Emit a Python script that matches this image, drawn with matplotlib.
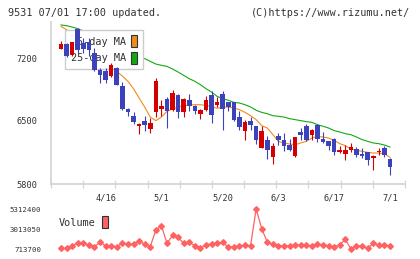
import matplotlib
matplotlib.use("Agg")
import matplotlib.pyplot as plt
from matplotlib.patches import Patch
from matplotlib.ticker import FixedLocator, NullFormatter
import numpy as np

# daily prices, 4/4 .. 7/1 (60 sessions)
opens = [7300, 7359, 7237, 7526, 7367, 7374, 7256, 7062, 7051, 6996,
         7089, 6892, 6633, 6559, 6441, 6504, 6411, 6596, 6633, 6748,
         6620, 6793, 6598, 6728, 6670, 6578, 6618, 6793, 6683, 6804,
         6707, 6707, 6541, 6385, 6504, 6441, 6200, 6293, 6096, 6330,
         6293, 6230, 6107, 6374, 6441, 6341, 6459, 6304, 6274, 6304,
         6152, 6137, 6174, 6189, 6133, 6152, 6085, 6152, 6200, 6081]
closes = [7359, 7218, 7374, 7293, 7300, 7293, 7070, 7007, 6951, 7126,
          6903, 6633, 6596, 6485, 6470, 6452, 6478, 6941, 6670, 6607,
          6815, 6600, 6748, 6663, 6607, 6626, 6728, 6565, 6709, 6638,
          6656, 6515, 6430, 6485, 6459, 6285, 6385, 6174, 6226, 6285,
          6219, 6181, 6319, 6341, 6293, 6404, 6304, 6267, 6219, 6152,
          6181, 6181, 6211, 6126, 6107, 6063, 6115, 6170, 6118, 5985]
highs = [7385, 7365, 7380, 7530, 7422, 7422, 7311, 7089, 7089, 7144,
         7100, 6929, 6640, 6596, 6478, 6552, 6533, 6978, 6737, 6767,
         6841, 6800, 6755, 6800, 6675, 6630, 6781, 6835, 6767, 6830,
         6712, 6712, 6607, 6515, 6544, 6445, 6441, 6330, 6260, 6367,
         6367, 6300, 6325, 6422, 6470, 6410, 6470, 6378, 6280, 6310,
         6226, 6235, 6256, 6215, 6200, 6160, 6120, 6200, 6226, 6085]
lows = [7295, 7212, 7226, 7259, 7256, 7226, 7051, 6922, 6922, 6990,
        6895, 6618, 6551, 6470, 6355, 6385, 6367, 6544, 6552, 6422,
        6610, 6533, 6548, 6607, 6580, 6522, 6610, 6478, 6656, 6396,
        6607, 6496, 6404, 6293, 6404, 6248, 6195, 6081, 6026, 6237,
        6163, 6163, 6100, 6285, 6274, 6285, 6263, 6260, 6174, 6126,
        6140, 6070, 6160, 6100, 6085, 6007, 5959, 6120, 6100, 5896]

# moving averages as drawn (part of them sits behind the legend box)
ma5 = [7550, 7515, 7460, 7420, 7390, 7350, 7300, 7240, 7170, 7110,
       7050, 7000, 6941, 6859, 6756, 6656, 6544, 6504, 6544, 6607,
       6633, 6656, 6670, 6678, 6681, 6681, 6674, 6660, 6641, 6652,
       6656, 6644, 6626, 6596, 6559, 6515, 6448, 6422, 6348, 6274,
       6256, 6244, 6237, 6256, 6274, 6311, 6330, 6322, 6311, 6285,
       6248, 6226, 6189, 6174, 6163, 6152, 6144, 6144, 6137, 6096]
ma25 = [7567, 7559, 7544, 7526, 7500, 7470, 7440, 7410, 7380, 7350,
        7320, 7290, 7260, 7235, 7212, 7193, 7163, 7133, 7119, 7107,
        7078, 7044, 7007, 6970, 6941, 6904, 6859, 6822, 6774, 6748,
        6730, 6707, 6700, 6681, 6656, 6619, 6596, 6581, 6559, 6552,
        6544, 6526, 6515, 6504, 6493, 6485, 6459, 6441, 6422, 6393,
        6378, 6359, 6348, 6322, 6293, 6274, 6256, 6248, 6233, 6211]

volume = [790000, 790000, 1093800, 1397800, 1397800, 1169800, 979700, 1473800, 1093800, 1093800,
          979700, 1397800, 1283800, 1283800, 1587800, 1283800, 979700, 2880000, 3412100, 1359800,
          2271900, 2043900, 1359800, 1473800, 1093800, 827700, 1207800, 1283800, 1397800, 1473800,
          903700, 979700, 1055700, 1169800, 1093800, 5312400, 3032100, 1511800, 1283800, 1093800,
          1093800, 1093800, 1169800, 1169800, 1169800, 1055700, 1283800, 1207800, 1093800, 979700,
          1207800, 1815900, 713700, 1093800, 1093800, 789700, 1359800, 1169800, 1169800, 1093800]

date_idx = [8, 18, 29, 39, 49, 59]
date_labels = ["4/16", "5/1", "5/20", "6/3", "6/17", "7/1"]
price_ticks = [5800, 6500, 7200]

UP = "#d40000"
DOWN = "#3b42bb"
MONO = "DejaVu Sans Mono"
GRID = "#d6d6d6"
TXT = "#333333"

fig = plt.figure(figsize=(4.2, 2.59), dpi=100)
ax = fig.add_axes([51/420, 75/259, 354/420, 162/259])
axv = fig.add_axes([51/420, 10/259, 354/420, 40/259])

x = np.arange(len(closes))
o = np.array(opens)
c = np.array(closes)
col = [UP if cc >= oo else DOWN for oo, cc in zip(o, c)]
body = np.where(np.abs(c - o) < 12, 12, c - o)

ax.plot(x, ma5, color="#f08c1a", lw=0.8, zorder=2)
ax.plot(x, ma25, color="#14a814", lw=0.8, zorder=2)
ax.vlines(x, lows, highs, colors=col, lw=0.8, zorder=3)
ax.bar(x, body, bottom=o, width=0.82, color=col, zorder=3.1)

xmin, xmax = -1.8, 61.7
ax.set_xlim(xmin, xmax)
ax.set_ylim(5800, 7600)
for s in ["top", "right"]:
    ax.spines[s].set_visible(False)
for s in ["left", "bottom"]:
    ax.spines[s].set_color(GRID)
    ax.spines[s].set_linewidth(1.3)

ax.xaxis.set_major_locator(FixedLocator(np.linspace(xmin, xmax, 12)))
ax.xaxis.set_major_formatter(NullFormatter())
ax.tick_params(axis="x", which="major", direction="inout", length=6, width=0.9, color=GRID)
ax.xaxis.set_minor_locator(FixedLocator(date_idx))
ax.set_xticklabels(date_labels, minor=True)
ax.tick_params(axis="x", which="minor", length=0, pad=7, labelsize=6.2, labelcolor=TXT)
for t in ax.get_xticklabels(minor=True):
    t.set_fontfamily(MONO)

ax.set_yticks(price_ticks)
ax.set_yticklabels([str(v) for v in price_ticks], fontfamily=MONO)
ax.tick_params(axis="y", length=0, pad=10, labelsize=6.2, labelcolor=TXT)

handles = [Patch(facecolor="#f08c1a", edgecolor="#333333", lw=0.8),
           Patch(facecolor="#14a814", edgecolor="#333333", lw=0.8)]
leg = ax.legend(handles, ["5-day MA", "25-day MA"], loc="upper left",
                bbox_to_anchor=(0.04, 0.952), markerfirst=False,
                handlelength=0.6, handleheight=1.4, handletextpad=0.5,
                labelspacing=0.45, borderpad=0.55, borderaxespad=0,
                fancybox=False, framealpha=1, edgecolor="#cccccc",
                prop={"family": MONO, "size": 7.4})
leg.get_frame().set_linewidth(1.0)
for t in leg.get_texts():
    t.set_color(TXT)
leg.set_zorder(2.5)

axv.plot(x, volume, color="#ff6262", lw=0.9, marker="D", ms=2.9, clip_on=False)
axv.set_xlim(xmin, xmax)
vmin, vmax = min(volume), max(volume)
axv.set_ylim(vmin, vmax)
vt = [vmin, (vmin + vmax) // 2, vmax]
axv.set_yticks(vt)
axv.set_yticklabels([str(v) for v in vt], fontfamily=MONO)
axv.tick_params(axis="y", length=0, pad=7, labelsize=5.3, labelcolor=TXT)
axv.set_xticks([])
for s in axv.spines.values():
    s.set_visible(False)
vleg = axv.legend([Patch(facecolor="#ff6262", edgecolor="#333333", lw=0.8)], ["Volume"],
                  loc="upper left", bbox_to_anchor=(0.011, 0.92), markerfirst=False,
                  handlelength=0.6, handleheight=1.4, handletextpad=0.6,
                  borderaxespad=0, frameon=False, prop={"family": MONO, "size": 7.4})
for t in vleg.get_texts():
    t.set_color(TXT)

fig.text(8/420, 1 - 13/259, "9531 07/01 17:00 updated.", family=MONO, size=7.3,
         color=TXT, va="center", ha="left")
fig.text(410/420, 1 - 13/259, "(C)https://www.rizumu.net/", family=MONO, size=7.3,
         color=TXT, va="center", ha="right")

fig.savefig("out.png", dpi=100)
